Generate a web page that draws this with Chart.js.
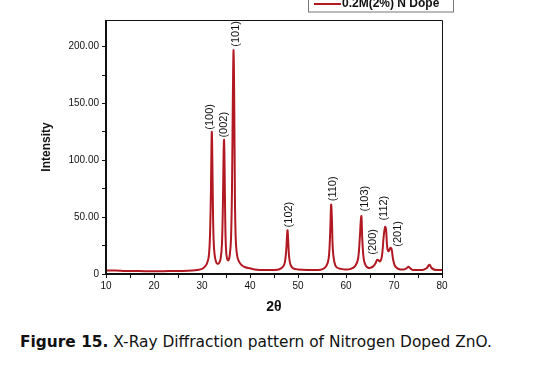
<!DOCTYPE html>
<html>
<head>
<meta charset="utf-8">
<script src="https://cdn.jsdelivr.net/npm/chart.js@4/dist/chart.umd.min.js"></script>
<style>
  html,body{margin:0;padding:0;background:#fff;}
  #wrap{position:relative;width:545px;height:322px;}
  #cap{position:absolute;left:20px;top:333px;font-family:"DejaVu Sans",Verdana,sans-serif;font-size:15.4px;color:#111;white-space:nowrap;}
  #cap b{font-weight:bold;}
</style>
</head>
<body>
<div id="wrap"><canvas id="c" width="545" height="322"></canvas></div>
<div id="cap"><b>Figure 15.</b> X-Ray Diffraction pattern of Nitrogen Doped ZnO.</div>
<script>
// ---- data ----
const seriesLabel = "0.2M(2%) N Dope";
const twoTheta = [10,12,14,16,18,20,22,24,26,28,29,30,30.5,31,31.4,31.65,31.85,31.97,32.05,32.15,32.27,32.42,32.6,32.9,33.2,33.6,33.9,34.15,34.35,34.5,34.6,34.7,34.85,35.0,35.2,35.5,35.8,36.05,36.25,36.42,36.58,36.72,36.86,37.0,37.2,37.5,38,38.5,39,40,41,42,44,45,46,46.8,47.25,47.55,47.72,47.82,47.95,48.15,48.45,49,50,52,54,55,55.9,56.4,56.7,56.9,57.05,57.25,57.55,58,59,60,61,61.9,62.5,62.85,63.1,63.22,63.4,63.7,64.1,64.6,65.1,65.6,66.1,66.5,66.8,67.1,67.5,67.85,68.15,68.35,68.6,68.9,69.25,69.5,69.8,70.2,70.7,71.3,72,72.6,73.0,73.4,73.9,75,76,76.8,77.2,77.45,77.8,78.3,79,80];
const intensity = [3,3,2.6,2.6,2.5,2.5,2.5,2.6,2.6,3,3.5,4.5,6,9,15,32,70,112,125,102,60,30,18,11,9,10,14,26,60,106,118,96,45,22,14,12,17,32,75,152,197,150,68,34,20,13,9,7,6,5,4,3.6,3.5,3.5,4,6,10,21,34,38.5,30,15,8,5,4,3.5,3.5,4,7,14,36,61,50,22,11,6,4.5,4,4.5,7,13,30,48,51,30,13,7.5,5.5,5.5,6.5,9,12.5,12,11,16,33,41.5,39,23,20,23,22,13,7,5,4,4,5,6.3,5,3.6,3.5,3.6,5,7.5,8,5.5,4,3.5,3.5];
const yTicks = [0,50,100,150,200];
const xTicks = [10,20,30,40,50,60,70,80];
const peakNames = ["(100)","(002)","(101)","(102)","(110)","(103)","(200)","(112)","(201)"];
const peakLabelX = [31.65,34.5,37.0,48.2,57.3,63.9,65.7,68.0,70.8];
const peakLabelY = [127,120,200,41,64,55,17,47,24];

const points = twoTheta.map((x,i)=>({x:x,y:intensity[i]}));
const lineColor = "rgb(178,24,34)";

const decor = {
  id:'decor',
  afterDraw(chart){
    const ctx = chart.ctx, a = chart.chartArea;
    const xs = chart.scales.x, ys = chart.scales.y;
    ctx.save();
    // frame
    ctx.strokeStyle = "#111";
    ctx.lineWidth = 1;
    ctx.beginPath();
    ctx.moveTo(a.left, a.top+0.5); ctx.lineTo(a.right+0.5, a.top+0.5); ctx.lineTo(a.right+0.5, a.bottom);
    ctx.stroke();
    ctx.lineWidth = 2;
    ctx.beginPath();
    ctx.moveTo(a.left, a.top); ctx.lineTo(a.left, a.bottom); ctx.lineTo(a.right+1, a.bottom);
    ctx.stroke();
    // peak labels
    ctx.fillStyle = "#111";
    ctx.font = "11px 'Liberation Sans', Arial, sans-serif";
    ctx.textAlign = "left";
    ctx.textBaseline = "middle";
    peakNames.forEach((t,i)=>{
      const px = xs.getPixelForValue(peakLabelX[i]);
      const py = ys.getPixelForValue(peakLabelY[i]);
      ctx.save();
      ctx.translate(px, py);
      ctx.rotate(-Math.PI/2);
      ctx.fillText(t, 0, 0);
      ctx.restore();
    });
    // legend box (cut by top edge)
    ctx.fillStyle = "#fff";
    ctx.fillRect(308,-4,145,16);
    ctx.strokeStyle = "#777";
    ctx.lineWidth = 1;
    ctx.strokeRect(308.5,-4,145,16);
    ctx.strokeStyle = lineColor;
    ctx.lineWidth = 2;
    ctx.beginPath(); ctx.moveTo(314,4); ctx.lineTo(341,4); ctx.stroke();
    ctx.fillStyle = "#111";
    ctx.font = "bold 12px 'Liberation Sans', Arial, sans-serif";
    ctx.textBaseline = "middle";
    ctx.fillText(seriesLabel, 342, 4);
    ctx.restore();
  }
};

new Chart(document.getElementById('c'), {
  type:'line',
  data:{datasets:[{label:seriesLabel,data:points,borderColor:lineColor,backgroundColor:lineColor,borderWidth:2,pointRadius:0,tension:0.35,fill:false}]},
  options:{
    responsive:false,animation:false,
    layout:{padding:{top:20,right:103,left:0,bottom:6}},
    plugins:{legend:{display:false},tooltip:{enabled:false}},
    scales:{
      x:{type:'linear',min:10,max:80,
        afterBuildTicks(s){s.ticks=[];for(let v=10;v<=80;v+=5)s.ticks.push({value:v});},
        afterFit(s){s.height=42;},
        grid:{display:true,drawOnChartArea:false,drawTicks:true,tickLength:4,color:"#111"},
        border:{display:false},
        ticks:{autoSkip:false,maxRotation:0,padding:2,color:"#111",font:{family:"'Liberation Sans', Arial, sans-serif",size:10},
          callback:(v)=>xTicks.includes(v)?String(v):''},
        title:{display:true,text:"2θ",color:"#111",font:{family:"'Liberation Sans', Arial, sans-serif",size:14,weight:'bold'},padding:{top:1,bottom:0}}
      },
      y:{min:0,max:223.5,
        afterBuildTicks(s){s.ticks=[];for(let v=0;v<=200;v+=25)s.ticks.push({value:v});},
        afterFit(s){s.width=106;},
        grid:{display:true,drawOnChartArea:false,drawTicks:true,tickLength:4,color:"#111"},
        border:{display:false},
        ticks:{autoSkip:false,padding:3,color:"#111",font:{family:"'Liberation Sans', Arial, sans-serif",size:10},
          callback:(v)=>yTicks.includes(v)?(v===0?'0':v.toFixed(2)):''},
        title:{display:true,text:"Intensity",color:"#111",font:{family:"'Liberation Sans', Arial, sans-serif",size:12,weight:'bold'},padding:{top:39,bottom:0}}
      }
    }
  },
  plugins:[decor]
});
</script>
</body>
</html>
